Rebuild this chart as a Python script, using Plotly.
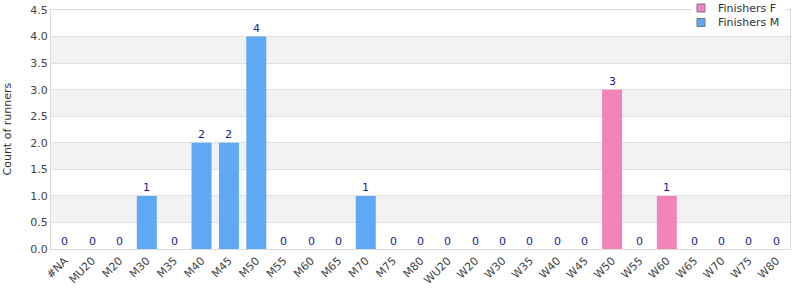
import plotly.graph_objects as go

categories = ["#NA", "MU20", "M20", "M30", "M35", "M40", "M45", "M50", "M55", "M60", "M65",
              "M70", "M75", "M80", "WU20", "W20", "W30", "W35", "W40", "W45", "W50", "W55",
              "W60", "W65", "W70", "W75", "W80"]
finishers_m = [0, 0, 0, 1, 0, 2, 2, 4, 0, 0, 0, 1, 0, 0, 0, 0, 0, 0, 0, 0, 0, 0, 0, 0, 0, 0, 0]
finishers_f = [0, 0, 0, 0, 0, 0, 0, 0, 0, 0, 0, 0, 0, 0, 0, 0, 0, 0, 0, 0, 3, 0, 1, 0, 0, 0, 0]
y_ticks = [0, 0.5, 1.0, 1.5, 2.0, 2.5, 3.0, 3.5, 4.0, 4.5]
series_names = ["Finishers F", "Finishers M"]
y_title = "Count of runners"

PINK = "#f383bb"
BLUE = "#5fa8f3"
totals = [m + f for m, f in zip(finishers_m, finishers_f)]

W, H = 800, 300
ML, MR, MT, MB = 51, 10, 10, 51
PW, PH = W - ML - MR, H - MT - MB


def px_x(x):
    return (x - ML) / PW


def px_y(y):
    return (H - MB - y) / PH


fig = go.Figure()
fig.add_trace(go.Bar(x=categories, y=finishers_m, marker=dict(color=BLUE, line=dict(width=0)),
                     showlegend=False, width=0.73, hoverinfo="skip"))
fig.add_trace(go.Bar(x=categories, y=finishers_f, marker=dict(color=PINK, line=dict(width=0)),
                     showlegend=False, width=0.73, hoverinfo="skip"))

for c, t in zip(categories, totals):
    fig.add_annotation(x=c, y=t, text=str(t), showarrow=False, yshift=8, yanchor="middle",
                       font=dict(color="#1c1c8c", size=11, family="DejaVu Sans"))

# alternating bands
for i in range(len(y_ticks) - 1):
    if i % 2 == 1:
        fig.add_shape(type="rect", xref="paper", yref="y", x0=0, x1=1,
                      y0=y_ticks[i], y1=y_ticks[i + 1], fillcolor="#f2f2f2",
                      line_width=0, layer="below")

# y-axis title
fig.add_annotation(xref="paper", yref="paper", x=px_x(7), y=0.5, text=y_title,
                   textangle=-90, showarrow=False, xanchor="center", yanchor="middle",
                   font=dict(size=11, color="#333333", family="DejaVu Sans"))

# custom legend
fig.add_shape(type="rect", xref="paper", yref="paper", x0=px_x(692), x1=px_x(787),
              y0=px_y(0), y1=px_y(31), fillcolor="white", line_width=0, layer="above")
for i, (name, col) in enumerate(zip(series_names, [PINK, BLUE])):
    cy = 8 + 14.5 * i
    fig.add_shape(type="rect", xref="paper", yref="paper", x0=px_x(697), x1=px_x(705),
                  y0=px_y(cy - 4), y1=px_y(cy + 4), fillcolor=col,
                  line=dict(color="#777777", width=1), layer="above")
    fig.add_annotation(xref="paper", yref="paper", x=px_x(716), y=px_y(cy), text=name,
                       showarrow=False, xanchor="left", yanchor="middle",
                       font=dict(size=11, color="#333333", family="DejaVu Sans"))

fig.update_layout(
    width=W, height=H,
    margin=dict(l=ML, r=MR, t=MT, b=MB, autoexpand=False),
    paper_bgcolor="white", plot_bgcolor="white",
    barmode="relative", showlegend=False,
    font=dict(family="DejaVu Sans", size=11, color="#444444"),
    xaxis=dict(tickangle=-45, showline=True, linecolor="#d9d9d9", linewidth=1,
               mirror=True, ticks="", tickfont=dict(size=11, color="#444444"),
               range=[-0.5, len(categories) - 0.5], automargin=False),
    yaxis=dict(range=[0, 4.5], tickvals=y_ticks,
               ticktext=[f"{v:.1f}" for v in y_ticks],
               showgrid=True, gridcolor="#e0e0e0", showline=True, linecolor="#d9d9d9",
               mirror=True, zeroline=False, ticks="", automargin=False),
)

fig.write_html("out.html")
